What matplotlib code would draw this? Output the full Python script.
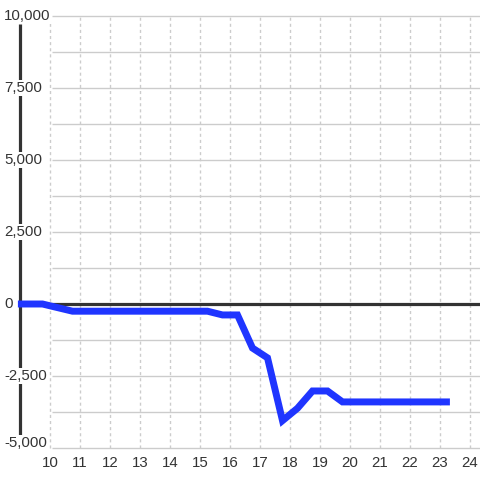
import matplotlib
matplotlib.use("Agg")
import matplotlib.pyplot as plt
import numpy as np

# hour of day vs. cumulative value
hours = [8.93, 9.75, 10.75, 15.25, 15.75, 16.25, 16.75, 17.25, 17.75, 18.25, 18.75, 19.25, 19.75, 23.33]
values = [0, 0, -250, -250, -380, -380, -1530, -1870, -4050, -3620, -3020, -3020, -3400, -3400]

y_ticks = [10000, 7500, 5000, 2500, 0, -2500, -5000]
y_labels = ["10,000", "7,500", "5,000", "2,500", "0", "-2,500", "-5,000"]
x_ticks = list(range(10, 25))

plt.rcParams['font.family'] = ['Liberation Sans', 'DejaVu Sans']

fig = plt.figure(figsize=(4.8, 4.8), dpi=100)
ax = fig.add_axes([0, 0, 1, 1])
ax.set_xlim(8.3333, 24.3333)
ax.set_ylim(-6111.1, 10555.6)
ax.axis('off')

# horizontal grid
for yv in np.arange(-5000, 10001, 1250):
    if yv == 0:
        continue
    ax.hlines(yv, 10.07, 24.4, color='#cccccc', lw=1, zorder=1)

# vertical dashed grid
for xv in x_ticks:
    ax.vlines(xv, -5000, 10000, color='#cccccc', lw=1, linestyles=(0, (2.2, 2.2)), zorder=1)

# axis lines
ax.vlines(9.0, -4730, 9730, color='#333333', lw=2.3, zorder=2)
ax.hlines(0, 9.0, 24.4, color='#333333', lw=2.3, zorder=2)

ax.plot(hours, values, color='#1f35ff', lw=5, solid_capstyle='butt',
        solid_joinstyle='miter', zorder=5)

for yv, lab in zip(y_ticks, y_labels):
    ypos = yv + 190 if yv == -5000 else yv
    ax.text(8.47, ypos, lab, ha='left', va='center', fontsize=10.8, color='#333333',
            zorder=4, bbox=dict(facecolor='white', edgecolor='none', pad=0.6))

for xv in x_ticks:
    ax.text(xv, -5520, str(xv), ha='center', va='center', fontsize=10.8, color='#333333')

fig.savefig("out.png", dpi=100, facecolor='white')
